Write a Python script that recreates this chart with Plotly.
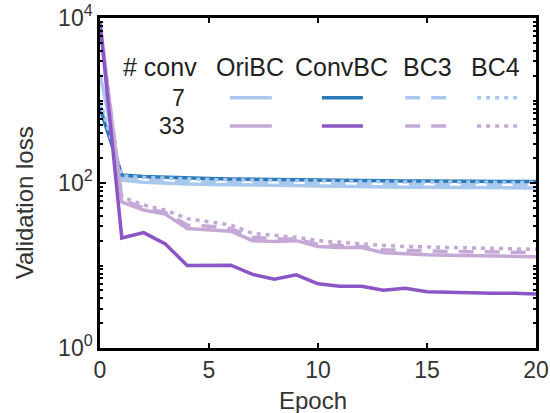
import plotly.graph_objects as go

epochs = list(range(21))

ori7 = [2100, 108, 102, 99, 97, 96, 95, 94, 93, 92, 91, 91, 90, 90, 89, 89, 89, 88, 88, 88, 87]
conv7 = [800, 125, 120, 117, 115, 113, 112, 111, 110, 109, 108, 108, 107, 107, 106, 106, 106, 105, 105, 105, 104]
bc3_7 = [900, 115, 110, 107, 105, 104, 103, 102, 101, 100, 99, 99, 98, 98, 97, 97, 97, 96, 96, 96, 95]
bc4_7 = [1000, 122, 117, 114, 112, 110, 109, 108, 107, 106, 105, 105, 104, 104, 103, 103, 103, 102, 102, 102, 101]

ori33 = [8500, 59, 47, 42, 28, 27, 26, 20, 19.5, 20, 17, 16.5, 16.5, 14.3, 13.8, 13.5, 13.3, 13.1, 13, 12.9, 12.8]
conv33 = [9000, 21.5, 25, 18.2, 10, 10.1, 10.1, 7.8, 6.8, 7.7, 6.0, 5.6, 5.6, 5.0, 5.3, 4.8, 4.7, 4.6, 4.6, 4.6, 4.5]
bc3_33 = [8000, 63, 50, 44, 31, 30, 28, 22, 21, 21, 18, 17.5, 17, 15.5, 15.2, 15, 14.8, 14.7, 14.6, 14.5, 14.4]
bc4_33 = [8500, 68, 54, 47, 37, 34, 31, 24.5, 23.5, 22, 20, 19, 18, 17.5, 17, 16.8, 16.5, 16.3, 16.1, 16, 15.7]

methods = ["OriBC", "ConvBC", "BC3", "BC4"]
conv_counts = ["7", "33"]
x_title = "Epoch"
y_title = "Validation loss"
y_tick_vals = [1, 100, 10000]
y_tick_text = ["10<sup>0</sup>", "10<sup>2</sup>", "10<sup>4</sup>"]

LB, DB = "#a9c8ee", "#2b7bba"
LP, DP = "#c4a9d6", "#8c55c5"
DASH = "15px,11px"
DOT = "4px,5px"

series = [
    ("OriBC", "7", ori7, LB, "solid"),
    ("BC3", "7", bc3_7, LB, DASH),
    ("ConvBC", "7", conv7, DB, "solid"),
    ("BC4", "7", bc4_7, LB, DOT),
    ("OriBC", "33", ori33, LP, "solid"),
    ("BC3", "33", bc3_33, LP, DASH),
    ("BC4", "33", bc4_33, LP, DOT),
    ("ConvBC", "33", conv33, DP, "solid"),
]

style = {(m, n): (c, d) for m, n, _, c, d in series}

fig = go.Figure()
for name, n, vals, col, dash in series:
    fig.add_trace(go.Scatter(x=epochs, y=vals, mode="lines", name=f"{name} {n}",
                             line=dict(color=col, width=3.5, dash=dash), showlegend=False))

FONT = "Liberation Sans, Arial, sans-serif"
TXT = "#222222"

# legend table (paper coordinates)
head_y = 0.852
head_x = {"OriBC": 0.344, "ConvBC": 0.555, "BC3": 0.752, "BC4": 0.908}
line_x = {"OriBC": (0.298, 0.394), "ConvBC": (0.509, 0.603), "BC3": (0.700, 0.798), "BC4": (0.865, 0.959)}
row_y = {"7": 0.758, "33": 0.673}
ann = [dict(x=0.138, y=head_y, xref="paper", yref="paper", text="# conv", showarrow=False,
            xanchor="center", yanchor="middle", font=dict(size=25, color=TXT, family=FONT))]
for m in methods:
    ann.append(dict(x=head_x[m], y=head_y, xref="paper", yref="paper", text=m, showarrow=False,
                    xanchor="center", yanchor="middle", font=dict(size=25, color=TXT, family=FONT)))
for n in conv_counts:
    ann.append(dict(x=0.200, y=row_y[n], xref="paper", yref="paper", text=n, showarrow=False,
                    xanchor="right", yanchor="middle", font=dict(size=23, color=TXT, family=FONT)))
    for m in methods:
        col, dash = style[(m, n)]
        x0, x1 = line_x[m]
        fig.add_shape(type="line", xref="paper", yref="paper", x0=x0, x1=x1, y0=row_y[n], y1=row_y[n],
                      line=dict(color=col, width=3.5, dash=dash))

# axis titles as annotations
ann.append(dict(x=-0.174, y=0.439, xref="paper", yref="paper", text=y_title, showarrow=False,
                textangle=-90, xanchor="center", yanchor="middle",
                font=dict(size=24, color="#333333", family=FONT)))
ann.append(dict(x=0.489, y=-0.158, xref="paper", yref="paper", text=x_title, showarrow=False,
                xanchor="center", yanchor="middle", font=dict(size=24, color="#333333", family=FONT)))

minor_vals = [k * 10 ** d for d in range(4) for k in range(2, 11) if k * 10 ** d < 10000]

fig.update_layout(
    width=550, height=413,
    margin=dict(l=100, r=14, t=18, b=65),
    paper_bgcolor="white", plot_bgcolor="white",
    annotations=ann,
    font=dict(family=FONT, size=23, color=TXT),
    xaxis=dict(range=[0, 20], tickvals=[0, 5, 10, 15, 20], ticks="inside", ticklen=5, tickwidth=2,
               tickcolor="black", showline=True, linecolor="black", linewidth=2.5, mirror="ticks",
               showgrid=False, zeroline=False, automargin=False,
               tickfont=dict(size=23, color="#333333")),
    yaxis=dict(type="log", range=[0, 4], tickvals=y_tick_vals, ticktext=y_tick_text,
               ticks="inside", ticklen=6, tickwidth=2, tickcolor="black",
               showline=True, linecolor="black", linewidth=2.5, mirror="ticks",
               showgrid=False, zeroline=False, automargin=False,
               tickfont=dict(size=23, color="#333333"),
               minor=dict(tickvals=minor_vals, ticks="inside", ticklen=3.5, tickwidth=1.5, tickcolor="black",
                          showgrid=False)),
)

fig.write_html("out.html", config={"displayModeBar": False},
               post_script="document.body.style.margin='0';document.body.style.overflow='hidden';")
